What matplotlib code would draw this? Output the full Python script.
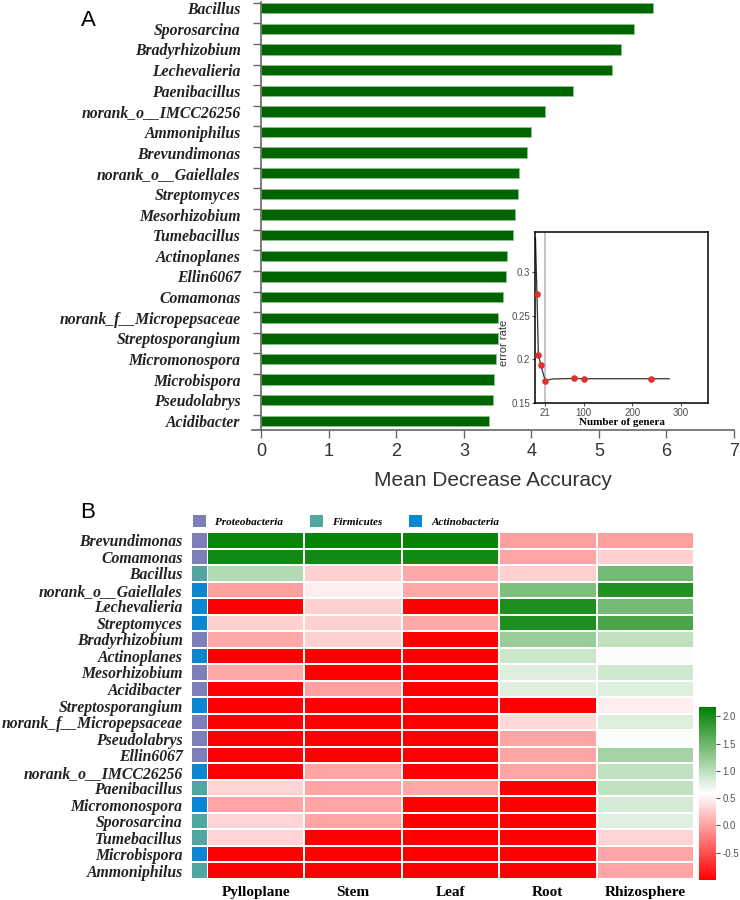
import numpy as np
import matplotlib.pyplot as plt
from matplotlib.colors import LinearSegmentedColormap, ListedColormap, Normalize
from matplotlib.patches import Patch

# Panel A: random forest importance
genera = ["Bacillus", "Sporosarcina", "Bradyrhizobium", "Lechevalieria", "Paenibacillus",
          "norank_o__IMCC26256", "Ammoniphilus", "Brevundimonas", "norank_o__Gaiellales",
          "Streptomyces", "Mesorhizobium", "Tumebacillus", "Actinoplanes", "Ellin6067",
          "Comamonas", "norank_f__Micropepsaceae", "Streptosporangium", "Micromonospora",
          "Microbispora", "Pseudolabrys", "Acidibacter"]
mda = [5.80, 5.52, 5.33, 5.20, 4.62, 4.20, 3.99, 3.93, 3.82, 3.80, 3.76,
       3.73, 3.63, 3.62, 3.58, 3.50, 3.50, 3.48, 3.45, 3.43, 3.37]

# inset: cross-validation error
point_x = [4, 7, 12, 21, 81, 100, 238]
point_y = [0.275, 0.205, 0.1935, 0.1755, 0.1785, 0.1777, 0.1779]
curve_x = [1, 4, 7, 12, 21, 35, 81, 100, 238, 276]
curve_y = [0.339, 0.275, 0.205, 0.1935, 0.1755, 0.1775, 0.1782, 0.1778, 0.1778, 0.1778]

# Panel B: heatmap
heat_rows = ["Brevundimonas", "Comamonas", "Bacillus", "norank_o__Gaiellales", "Lechevalieria",
             "Streptomyces", "Bradyrhizobium", "Actinoplanes", "Mesorhizobium", "Acidibacter",
             "Streptosporangium", "norank_f__Micropepsaceae", "Pseudolabrys", "Ellin6067",
             "norank_o__IMCC26256", "Paenibacillus", "Micromonospora", "Sporosarcina",
             "Tumebacillus", "Microbispora", "Ammoniphilus"]
row_phylum = ["Proteobacteria", "Proteobacteria", "Firmicutes", "Actinobacteria", "Actinobacteria",
              "Actinobacteria", "Proteobacteria", "Actinobacteria", "Proteobacteria", "Proteobacteria",
              "Actinobacteria", "Proteobacteria", "Proteobacteria", "Proteobacteria",
              "Actinobacteria", "Firmicutes", "Actinobacteria", "Firmicutes",
              "Firmicutes", "Actinobacteria", "Firmicutes"]
phyla = ["Proteobacteria", "Firmicutes", "Actinobacteria"]
phylum_colors = ["#7d80b8", "#52a6a1", "#0b86d1"]
sites = ["Pylloplane", "Stem", "Leaf", "Root", "Rhizosphere"]
heat_vals = [
    [2.10, 2.12, 2.12, 0.00, 0.00],
    [2.05, 2.05, 2.05, 0.02, 0.30],
    [1.05, 0.30, 0.05, 0.30, 1.45],
    [0.00, 0.48, 0.05, 1.38, 1.95],
    [-1.0, 0.30, -1.0, 1.98, 1.45],
    [0.30, 0.30, 0.05, 1.98, 1.70],
    [0.05, 0.30, -1.0, 1.22, 0.98],
    [-1.0, -1.0, -1.0, 0.90, 0.61],
    [0.05, -1.0, -1.0, 0.79, 0.88],
    [-1.0, 0.00, -1.0, 0.79, 0.80],
    [-1.0, -1.0, -1.0, -1.0, 0.48],
    [-1.0, -1.0, -1.0, 0.34, 0.80],
    [-1.0, -1.0, -1.0, 0.02, 0.61],
    [-1.0, -1.0, -1.0, 0.02, 1.15],
    [-1.0, 0.02, -1.0, 0.02, 0.96],
    [0.32, 0.02, 0.05, -1.0, 0.96],
    [0.02, 0.02, -1.0, -1.0, 0.84],
    [0.32, 0.02, -1.0, -1.0, 0.78],
    [0.32, -1.0, -1.0, -1.0, 0.32],
    [-1.0, -1.0, -1.0, -1.0, 0.02],
    [-1.0, -1.0, -1.0, -1.0, 0.02],
]

W, H = 740, 900
serif_bi = dict(family="Liberation Serif", weight="bold", style="italic")
plt.rcParams["font.family"] = ["Liberation Sans", "DejaVu Sans"]

fig = plt.figure(figsize=(7.4, 9), dpi=100)

# ---------- panel A ----------
ax = fig.add_axes([252 / W, 1 - 430 / H, (734 - 252) / W, (430 - 2) / H])
y = np.arange(len(genera))
ax.barh(y, mda, height=0.5, color="#006400", edgecolor="#8cc68c", linewidth=0.6)
ax.set_xlim(-0.14, 7)
ax.set_ylim(20.44, -0.3)
ax.spines["left"].set_position(("data", 0))
for s in ["top", "right"]:
    ax.spines[s].set_visible(False)
for s in ["left", "bottom"]:
    ax.spines[s].set_color("#666666")
    ax.spines[s].set_linewidth(1.2)
ax.set_yticks(y)
ax.set_yticklabels(genera, fontsize=11.3, color="#222222", **serif_bi)
ax.set_yticks(y - 0.27, minor=True)
ax.tick_params(axis="y", which="major", length=0, pad=15)
ax.tick_params(axis="y", which="minor", length=6, width=1, color="#666666")
ax.set_xticks(range(8))
ax.tick_params(axis="x", length=6, width=1, color="#666666", labelsize=13, labelcolor="#333333")
ax.set_xlabel("Mean Decrease Accuracy", fontsize=15, color="#333333", labelpad=8)
fig.text(88 / W, 1 - 21 / H, "A", fontsize=16, ha="center", va="center")

# inset
ins = fig.add_axes([535 / W, 1 - 403 / H, 173 / W, 171 / H])
ins.axvline(21, color="#bbbbbb", lw=1.2, zorder=0)
ins.plot(curve_x, curve_y, color="#333333", lw=0.9)
ins.scatter(point_x, point_y, color="#e0302a", s=14, zorder=3)
ins.set_xlim(0, 356)
ins.set_ylim(0.15, 0.346)
ins.set_xticks([21, 100, 200, 300])
ins.set_yticks([0.15, 0.2, 0.25, 0.3])
ins.set_yticklabels(["0.15", "0.2", "0.25", "0.3"])
ins.tick_params(labelsize=7, colors="#4d4d4d", length=2.5, pad=1)
for s in ins.spines.values():
    s.set_linewidth(1.1)
ins.set_xlabel("Number of genera", family="Liberation Serif", weight="bold", fontsize=8, labelpad=0)
ins.set_ylabel("error rate", fontsize=8, color="#333333")
ins.yaxis.set_label_coords(-0.15, 0.35)

# ---------- panel B ----------
fig.text(88 / W, 1 - 512 / H, "B", fontsize=16, ha="center", va="center")

cmap = LinearSegmentedColormap.from_list("rwg", ["#ff0000", "#ffffff", "#008000"])
norm = Normalize(vmin=-1.0, vmax=2.17)

top, bot = 532, 879
hm = fig.add_axes([207 / W, 1 - bot / H, (694 - 207) / W, (bot - top) / H])
mesh = hm.pcolormesh(np.array(heat_vals), cmap=cmap, norm=norm, edgecolors="white", linewidth=1.3)
hm.set_xlim(0, len(sites))
hm.set_ylim(len(heat_rows), 0)
hm.set_xticks(np.arange(len(sites)) + 0.5)
hm.set_xticklabels(sites, family="Liberation Serif", weight="bold", fontsize=11)
hm.set_yticks([])
hm.tick_params(axis="x", length=0, pad=5)
for s in hm.spines.values():
    s.set_visible(False)

ph = fig.add_axes([191 / W, 1 - bot / H, 17 / W, (bot - top) / H])
codes = np.array([[phyla.index(p)] for p in row_phylum])
ph.pcolormesh(codes, cmap=ListedColormap(phylum_colors), vmin=-0.5, vmax=2.5,
              edgecolors="white", linewidth=1.3)
ph.set_xlim(0, 1)
ph.set_ylim(len(heat_rows), 0)
ph.set_xticks([])
ph.set_yticks(np.arange(len(heat_rows)) + 0.5)
ph.set_yticklabels(heat_rows, fontsize=11.3, color="#222222", **serif_bi)
ph.tick_params(axis="y", length=0, pad=6)
for s in ph.spines.values():
    s.set_visible(False)

handles = [Patch(facecolor=c, edgecolor="none") for c in phylum_colors]
fig.legend(handles, phyla, loc="center left", bbox_to_anchor=(183 / W, 1 - 521 / H), ncol=3,
           frameon=False, handlelength=1.2, handleheight=1.2, handletextpad=0.8,
           columnspacing=2.4, prop=dict(size=8, **serif_bi))

cax = fig.add_axes([699 / W, 1 - 880 / H, 17 / W, 173 / H])
cb = fig.colorbar(mesh, cax=cax, ticks=[-0.5, 0, 0.5, 1, 1.5, 2], format="%.1f")
cb.outline.set_visible(False)
cb.ax.tick_params(labelsize=7, colors="#555555", length=3, width=0.8, pad=1.5)

fig.savefig("out.png", dpi=100)
